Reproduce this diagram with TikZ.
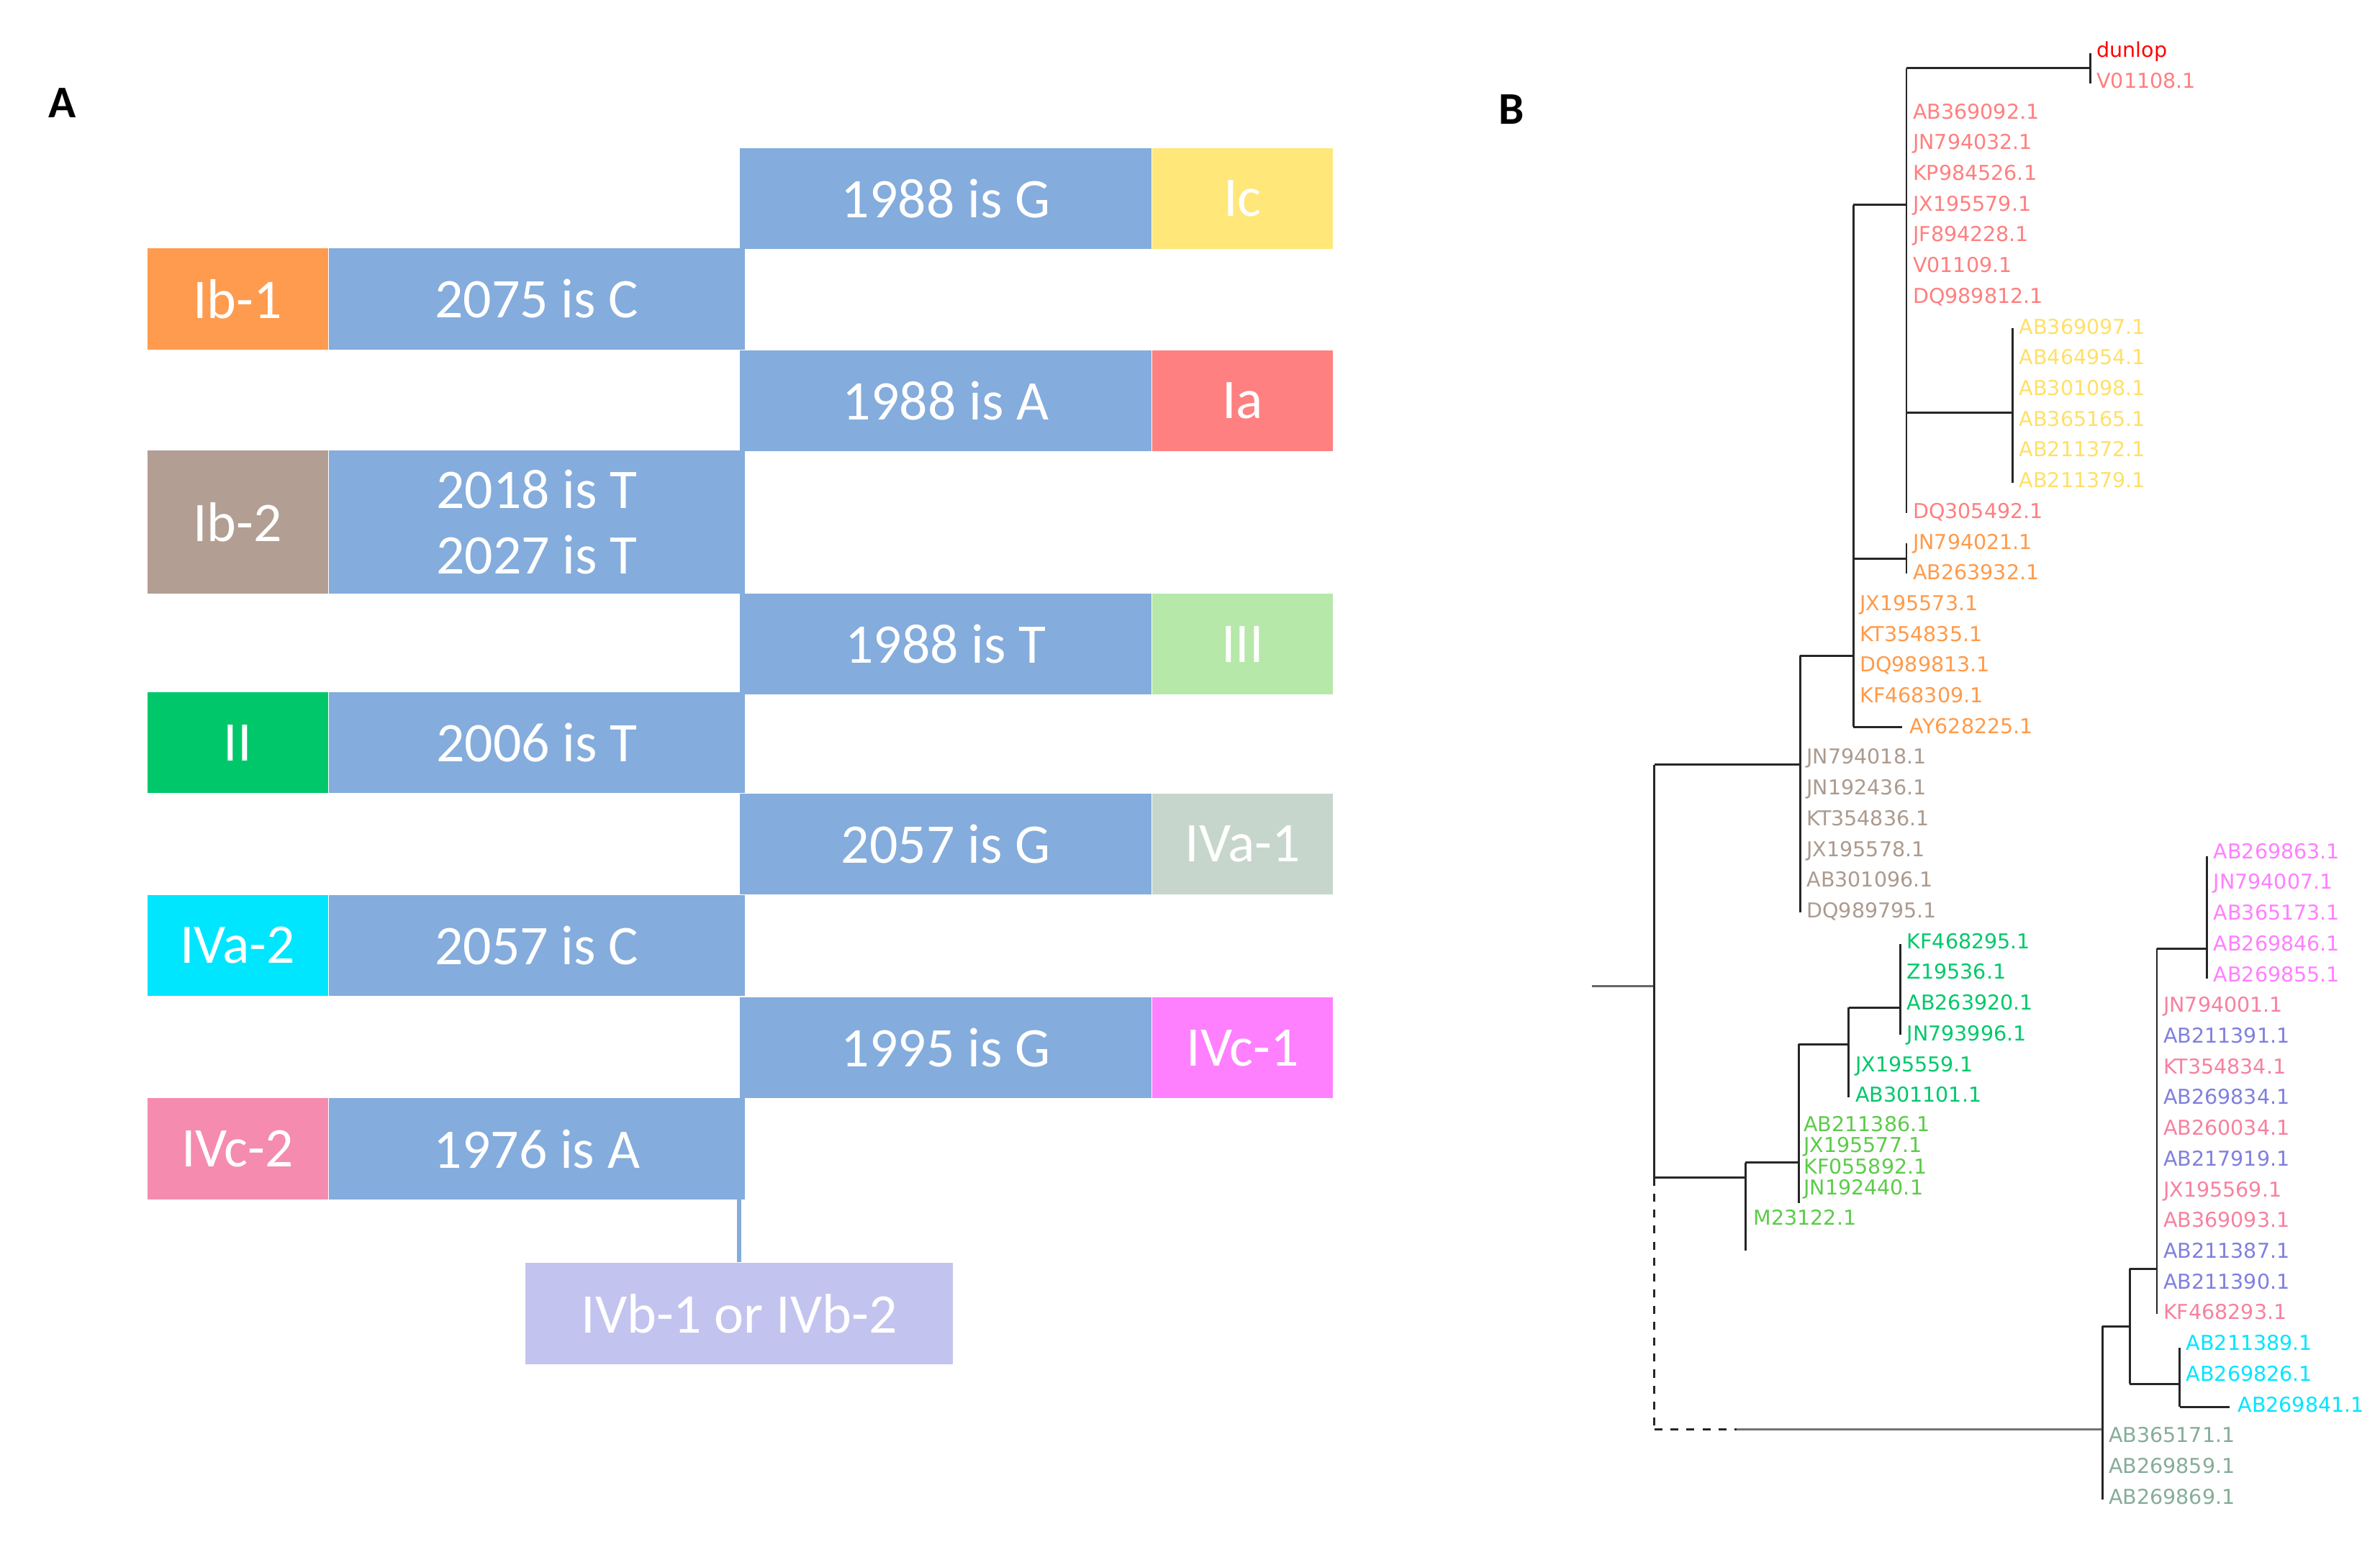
\documentclass[tikz,border=0pt]{standalone}
\usepackage{fontspec}
\usepackage{xcolor}
\usepackage{tikz}
\usetikzlibrary{positioning}

\newfontfamily\boxfont{Carlito}
\newfontfamily\treefont{DejaVu Sans}

% box colours (panel A)
\definecolor{mutblue}{HTML}{84ACDC}
\definecolor{cIc}{HTML}{FFE77A}
\definecolor{cIbone}{HTML}{FF9B4E}
\definecolor{cIa}{HTML}{FF8080}
\definecolor{cIbtwo}{HTML}{B29E92}
\definecolor{cIII}{HTML}{B5E8A9}
\definecolor{cII}{HTML}{00C86A}
\definecolor{cIVaone}{HTML}{C6D6CC}
\definecolor{cIVatwo}{HTML}{00E6FF}
\definecolor{cIVcone}{HTML}{FF80FF}
\definecolor{cIVctwo}{HTML}{F58BAF}
\definecolor{cIVb}{HTML}{C3C3EF}
% label colours (panel B)
\definecolor{tdun}{HTML}{FF0000}
\definecolor{tIa}{HTML}{FF7F7F}
\definecolor{tIc}{HTML}{FFE066}
\definecolor{tIbone}{HTML}{FF9A4A}
\definecolor{tIbtwo}{HTML}{AC9A8E}
\definecolor{tII}{HTML}{00C86A}
\definecolor{tIII}{HTML}{5CCB4A}
\definecolor{tIVcone}{HTML}{FF7FFF}
\definecolor{tIVctwo}{HTML}{F7819F}
\definecolor{tIVb}{HTML}{7F7FDF}
\definecolor{tIVatwo}{HTML}{00E5FF}
\definecolor{tIVaone}{HTML}{86AC98}

\tikzset{
    panel/.style={font=\boxfont\bfseries\fontsize{17}{20}\selectfont},
    mutbox/.style={fill=mutblue, text=white, inner sep=0pt, minimum height=1.33cm,
        font=\boxfont\fontsize{21}{24.5}\selectfont, align=center},
    typebox/.style={mutbox, fill=#1, minimum width=2.38cm},
    branch/.style={draw=black!85, line width=0.8pt},
    leaf/.style={anchor=mid west, inner sep=0pt, text=#1,
        font=\treefont\fontsize{7.7}{9}\selectfont}
}

\begin{document}
\begin{tikzpicture}[x=0.02cm, y=-0.02cm]
    \useasboundingbox (0,0) rectangle (1568,1016);

    % panel A
    \node[panel] (labA) at (41,68) {A};
    \node[mutbox, minimum width=5.42cm] (m1988G) at (623,131) {1988 is G};
    \node[typebox=cIc, right=0pt of m1988G] (tyIc) {Ic};
    \node[typebox=cIbone] (tyIbone) at (156.5,197) {Ib-1};
    \node[mutbox, minimum width=5.48cm, right=0pt of tyIbone] (m2075C) {2075 is C};
    \node[mutbox, minimum width=5.42cm] (m1988A) at (623,264) {1988 is A};
    \node[typebox=cIa, right=0pt of m1988A] (tyIa) {Ia};
    \node[typebox=cIbtwo, minimum height=1.88cm] (tyIbtwo) at (156.5,344) {Ib-2};
    \node[mutbox, minimum width=5.48cm, minimum height=1.88cm, right=0pt of tyIbtwo] (m2018T) {2018 is T\\2027 is T};
    \node[mutbox, minimum width=5.42cm] (m1988T) at (623,424.5) {1988 is T};
    \node[typebox=cIII, right=0pt of m1988T] (tyIII) {III};
    \node[typebox=cII] (tyII) at (156.5,489.5) {II};
    \node[mutbox, minimum width=5.48cm, right=0pt of tyII] (m2006T) {2006 is T};
    \node[mutbox, minimum width=5.42cm] (m2057G) at (623,556) {2057 is G};
    \node[typebox=cIVaone, right=0pt of m2057G] (tyIVaone) {IVa-1};
    \node[typebox=cIVatwo] (tyIVatwo) at (156.5,623) {IVa-2};
    \node[mutbox, minimum width=5.48cm, right=0pt of tyIVatwo] (m2057C) {2057 is C};
    \node[mutbox, minimum width=5.42cm] (m1995G) at (623,690.5) {1995 is G};
    \node[typebox=cIVcone, right=0pt of m1995G] (tyIVcone) {IVc-1};
    \node[typebox=cIVctwo] (tyIVctwo) at (156.5,757) {IVc-2};
    \node[mutbox, minimum width=5.48cm, right=0pt of tyIVctwo] (m1976A) {1976 is A};
    \node[typebox=cIVb, minimum width=5.64cm, minimum height=1.34cm] (tyIVb) at (487,865.5) {IVb-1 or IVb-2};
    \draw[mutblue, line width=1.8pt] (tyIVb.north) -- (tyIVb.north |- m1976A.south);

    % panel B
    \node[panel] (labB) at (996,72) {B};

    \coordinate (root0) at (1049,650);
    \coordinate (root) at (1090,650);
    \coordinate (nA) at (1186,504);
    \coordinate (nI) at (1221,432);
    \coordinate (nIa) at (1256,135);
    \coordinate (nDun) at (1377,45);
    \coordinate (nIc) at (1326,272);
    \coordinate (nPair) at (1256,368);
    \coordinate (nAY) at (1253,479);
    \coordinate (nB) at (1150,776);
    \coordinate (nIII) at (1185,766);
    \coordinate (nIIa) at (1218,688);
    \coordinate (nII) at (1252,664);
    \coordinate (nIV) at (1385,942);
    \coordinate (nIVx) at (1403,874);
    \coordinate (nIVbc) at (1421,836);
    \coordinate (nIVc) at (1454,625);
    \coordinate (nIVa) at (1436,912);
    \coordinate (nAB41) at (1469,927);

    % horizontal branches
    \draw[branch, black!60] (root0) -- (root);
    \draw[branch] (nA -| root) -- (nA);
    \draw[branch] (nI -| nA) -- (nI);
    \draw[branch] (nIa -| nI) -- (nIa);
    \draw[branch] (nDun -| nIa) -- (nDun);
    \draw[branch] (nIc -| nIa) -- (nIc);
    \draw[branch] (nPair -| nI) -- (nPair);
    \draw[branch] (nAY -| nI) -- (nAY);
    \draw[branch] (nB -| root) -- (nB);
    \draw[branch] (nIII -| nB) -- (nIII);
    \draw[branch] (nIIa -| nIII) -- (nIIa);
    \draw[branch] (nII -| nIIa) -- (nII);
    \draw[branch, dashed] (nIV -| root) -- ++(54,0) coordinate (nIVd);
    \draw[branch, black!55] (nIVd) -- (nIV);
    \draw[branch] (nIVx -| nIV) -- (nIVx);
    \draw[branch] (nIVbc -| nIVx) -- (nIVbc);
    \draw[branch] (nIVc -| nIVbc) -- (nIVc);
    \draw[branch] (nIVa -| nIVx) -- (nIVa);
    \draw[branch] (nAB41 -| nIVa) -- (nAB41);

    % vertical branches
    \draw[branch] (nA -| root) -- (nB -| root);
    \draw[branch, dashed] (nB -| root) -- (nIV -| root);
    \draw[branch] (1186,432) -- (1186,601);
    \draw[branch] (1221,135) -- (1221,479);
    \draw[branch] (1256,45) -- (1256,338);
    \draw[branch] (1377,35) -- (1377,55);
    \draw[branch] (1326,216) -- (1326,318);
    \draw[branch] (1256,358) -- (1256,378);
    \draw[branch] (1150,766) -- (1150,824);
    \draw[branch] (1185,688) -- (1185,793);
    \draw[branch] (1218,664) -- (1218,723);
    \draw[branch] (1252,622) -- (1252,682);
    \draw[branch] (1385,874) -- (1385,988);
    \draw[branch] (1403,836) -- (1403,912);
    \draw[branch] (1421,625) -- (1421,866);
    \draw[branch] (1454,564) -- (1454,645);
    \draw[branch] (1436,888) -- (1436,927);

    % leaves
    \node[leaf=tdun] (lDun) at (1381,34) {dunlop};
    \node[leaf=tIa] (lV08) at (1381,54.25) {V01108.1};
    \foreach \yy/\name in {74.5/AB369092.1, 94.75/JN794032.1, 115/KP984526.1, 135.25/JX195579.1,
        155.5/JF894228.1, 175.75/V01109.1, 196/DQ989812.1, 337.75/DQ305492.1}
        \node[leaf=tIa] (ia\yy) at (1260,\yy) {\name};
    \foreach \yy/\name in {216.25/AB369097.1, 236.5/AB464954.1, 256.75/AB301098.1,
        277/AB365165.1, 297.25/AB211372.1, 317.5/AB211379.1}
        \node[leaf=tIc] (ic\yy) at (1330,\yy) {\name};
    \foreach \yy/\name in {358/JN794021.1, 378.25/AB263932.1}
        \node[leaf=tIbone] (ibp\yy) at (1260,\yy) {\name};
    \foreach \yy/\name in {398.5/JX195573.1, 418.75/KT354835.1, 439/DQ989813.1, 459.25/KF468309.1}
        \node[leaf=tIbone] (ib\yy) at (1225,\yy) {\name};
    \node[leaf=tIbone] (lAY) at (1258,479.5) {AY628225.1};
    \foreach \yy/\name in {499.75/JN794018.1, 520/JN192436.1, 540.25/KT354836.1,
        560.5/JX195578.1, 580.75/AB301096.1, 601/DQ989795.1}
        \node[leaf=tIbtwo] (ibt\yy) at (1190,\yy) {\name};
    \foreach \yy/\name in {621.25/KF468295.1, 641.5/Z19536.1, 661.75/AB263920.1, 682/JN793996.1}
        \node[leaf=tII] (ii\yy) at (1256,\yy) {\name};
    \foreach \yy/\name in {702.25/JX195559.1, 722.5/AB301101.1}
        \node[leaf=tII] (iia\yy) at (1222,\yy) {\name};
    \foreach \yy/\name in {742/AB211386.1, 755.5/JX195577.1, 770/KF055892.1, 783.5/JN192440.1}
        \node[leaf=tIII] (iii\yy) at (1188,\yy) {\name};
    \node[leaf=tIII] (lM23) at (1155,803.5) {M23122.1};
    \foreach \yy/\name in {562/AB269863.1, 582.25/JN794007.1, 602.5/AB365173.1,
        622.75/AB269846.1, 643/AB269855.1}
        \node[leaf=tIVcone] (ivc\yy) at (1458,\yy) {\name};
    \foreach \yy/\name/\col in {663.25/JN794001.1/tIVctwo, 683.5/AB211391.1/tIVb,
        703.75/KT354834.1/tIVctwo, 724/AB269834.1/tIVb, 744.25/AB260034.1/tIVctwo,
        764.5/AB217919.1/tIVb, 784.75/JX195569.1/tIVctwo, 805/AB369093.1/tIVctwo,
        825.25/AB211387.1/tIVb, 845.5/AB211390.1/tIVb, 865.75/KF468293.1/tIVctwo}
        \node[leaf=\col] (ivb\yy) at (1425,\yy) {\name};
    \foreach \yy/\name in {886/AB211389.1, 906.25/AB269826.1}
        \node[leaf=tIVatwo] (iva\yy) at (1440,\yy) {\name};
    \node[leaf=tIVatwo] (lAB41) at (1474,926.5) {AB269841.1};
    \foreach \yy/\name in {946.75/AB365171.1, 967/AB269859.1, 987.25/AB269869.1}
        \node[leaf=tIVaone] (ivo\yy) at (1389,\yy) {\name};
\end{tikzpicture}
\end{document}
